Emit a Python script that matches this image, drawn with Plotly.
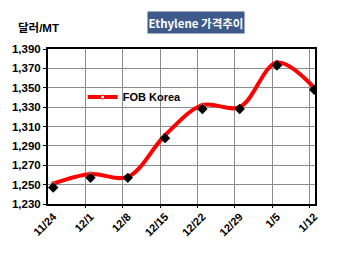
import plotly.graph_objects as go

dates = ["11/24", "12/1", "12/8", "12/15", "12/22", "12/29", "1/5", "1/12"]
fob_korea = [1251, 1261, 1258, 1301, 1332, 1330, 1376, 1350]
points = [1247, 1257, 1257, 1298, 1328, 1328, 1373, 1348]
y_ticks = [1230, 1250, 1270, 1290, 1310, 1330, 1350, 1370, 1390]

idx = list(range(len(dates)))
FONT = "Liberation Sans, Arial, Noto Sans CJK KR"

fig = go.Figure()
# empty trace carrying the grid axis (x2)
fig.add_trace(go.Scatter(x=[], y=[], xaxis="x2", yaxis="y", showlegend=False, hoverinfo="skip"))
fig.add_trace(go.Scatter(
    x=idx, y=fob_korea, name="FOB Korea", mode="lines+markers",
    line=dict(color="#FF0000", width=4, shape="spline", smoothing=1),
    marker=dict(symbol="circle", size=4, color="white", line=dict(color="#FF0000", width=1)),
))
fig.add_trace(go.Scatter(
    x=idx, y=points, mode="markers", showlegend=False,
    marker=dict(symbol="diamond", size=8, color="black"),
))

fig.update_layout(
    width=350, height=253,
    margin=dict(l=45, r=35, t=49, b=49),
    paper_bgcolor="white", plot_bgcolor="white",
    font=dict(family=FONT, color="black"),
    showlegend=True,
    legend=dict(x=0.13, y=0.69, xanchor="left", yanchor="middle",
                bgcolor="rgba(0,0,0,0)", borderwidth=0,
                font=dict(size=11, weight="bold", family=FONT),
                itemwidth=30),
    xaxis=dict(
        range=[-0.14, 7.02], tickmode="array", tickvals=idx, ticktext=dates,
        tickangle=-45, showgrid=False, ticks="", zeroline=False,
        tickfont=dict(size=11, weight="bold", family=FONT),
        showline=True, linecolor="black", linewidth=2, mirror=True,
    ),
    xaxis2=dict(
        overlaying="x", side="bottom", anchor="y",
        range=[-0.01, 7.15], tickmode="array", tickvals=idx[1:],
        showticklabels=False, showgrid=True, gridcolor="#8c8c8c", gridwidth=1,
        ticks="outside", ticklen=3, tickcolor="black", zeroline=False, showline=False,
    ),
    yaxis=dict(
        range=[1230, 1390], tickmode="array", tickvals=y_ticks,
        tickformat=",d", showgrid=True, gridcolor="#8c8c8c", gridwidth=1,
        ticks="outside", ticklen=3, tickcolor="black", zeroline=False,
        tickfont=dict(size=11.5, weight="bold", family=FONT),
        showline=True, linecolor="black", linewidth=2, mirror=True,
    ),
    annotations=[
        dict(text="Ethylene 가격추이", xref="paper", yref="paper",
             x=0.554, y=1.173, xanchor="center", yanchor="middle", showarrow=False,
             bgcolor="#3D5A8A", width=94, height=19, borderpad=1,
             font=dict(family="Noto Sans CJK KR", size=11.5, color="white", weight="bold")),
        dict(text="달러/MT", xref="paper", yref="paper",
             x=-0.035, y=1.135, xanchor="center", yanchor="middle", showarrow=False,
             font=dict(family=FONT, size=11.5, color="black", weight="bold")),
    ],
)

fig.write_html("out.html")
